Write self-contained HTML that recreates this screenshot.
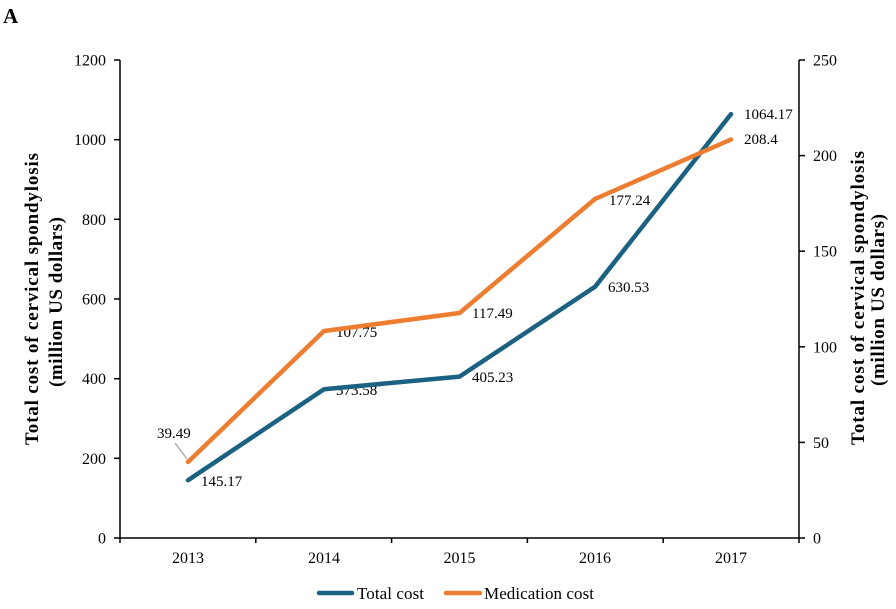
<!DOCTYPE html>
<html>
<head>
<meta charset="utf-8">
<style>
  html,body{margin:0;padding:0;background:#fff;}
  svg{display:block;}
  text{font-family:"Liberation Serif","Times New Roman",serif;fill:#000;}
</style>
</head>
<body>
<svg width="896" height="609" viewBox="0 0 896 609" xmlns="http://www.w3.org/2000/svg">
  <rect width="896" height="609" fill="#fff"/>
  <!-- Panel label -->
  <text x="3" y="23" font-size="21" font-weight="bold">A</text>

  <!-- Axes -->
  <g stroke="#000" stroke-width="1.5" fill="none">
    <line x1="120" y1="60" x2="120" y2="538"/>
    <line x1="799" y1="60" x2="799" y2="538"/>
    <line x1="120" y1="538" x2="799" y2="538"/>
    <!-- left ticks -->
    <line x1="114" y1="538" x2="120" y2="538"/>
    <line x1="114" y1="458.3" x2="120" y2="458.3"/>
    <line x1="114" y1="378.7" x2="120" y2="378.7"/>
    <line x1="114" y1="299" x2="120" y2="299"/>
    <line x1="114" y1="219.3" x2="120" y2="219.3"/>
    <line x1="114" y1="139.7" x2="120" y2="139.7"/>
    <line x1="114" y1="60" x2="120" y2="60"/>
    <!-- right ticks -->
    <line x1="799" y1="538" x2="805" y2="538"/>
    <line x1="799" y1="442.4" x2="805" y2="442.4"/>
    <line x1="799" y1="346.8" x2="805" y2="346.8"/>
    <line x1="799" y1="251.2" x2="805" y2="251.2"/>
    <line x1="799" y1="155.6" x2="805" y2="155.6"/>
    <line x1="799" y1="60" x2="805" y2="60"/>
    <!-- bottom ticks -->
    <line x1="120" y1="538" x2="120" y2="543"/>
    <line x1="255.8" y1="538" x2="255.8" y2="543"/>
    <line x1="391.6" y1="538" x2="391.6" y2="543"/>
    <line x1="527.4" y1="538" x2="527.4" y2="543"/>
    <line x1="663.2" y1="538" x2="663.2" y2="543"/>
    <line x1="799" y1="538" x2="799" y2="543"/>
  </g>

  <!-- Left tick labels -->
  <g font-size="16" text-anchor="end">
    <text x="106" y="543.5">0</text>
    <text x="106" y="463.8">200</text>
    <text x="106" y="384.2">400</text>
    <text x="106" y="304.5">600</text>
    <text x="106" y="224.8">800</text>
    <text x="106" y="145.2">1000</text>
    <text x="106" y="65.5">1200</text>
  </g>
  <!-- Right tick labels -->
  <g font-size="16" text-anchor="start">
    <text x="813" y="543.5">0</text>
    <text x="813" y="447.9">50</text>
    <text x="813" y="352.3">100</text>
    <text x="813" y="256.7">150</text>
    <text x="813" y="161.1">200</text>
    <text x="813" y="65.5">250</text>
  </g>
  <!-- X labels -->
  <g font-size="16" text-anchor="middle">
    <text x="188" y="563">2013</text>
    <text x="324" y="563">2014</text>
    <text x="459.5" y="563">2015</text>
    <text x="595" y="563">2016</text>
    <text x="731" y="563">2017</text>
  </g>

  <!-- Y axis titles -->
  <g font-size="19" font-weight="bold" text-anchor="middle">
    <text transform="translate(38,299) rotate(-90)" textLength="292" lengthAdjust="spacing">Total cost of  cervical spondylosis</text>
    <text transform="translate(62,302) rotate(-90)" textLength="170" lengthAdjust="spacing">(million   US dollars)</text>
    <text transform="translate(864,298) rotate(-90)" textLength="294" lengthAdjust="spacing">Total cost of  cervical spondylosis</text>
    <text transform="translate(884,300) rotate(-90)" textLength="172" lengthAdjust="spacing">(million   US dollars)</text>
  </g>

  <!-- Data labels -->
  <g font-size="15">
    <text x="201" y="486">145.17</text>
    <text x="157" y="438">39.49</text>
    <text x="336" y="395">373.58</text>
    <text x="336" y="337">107.75</text>
    <text x="472" y="382">405.23</text>
    <text x="472" y="318">117.49</text>
    <text x="608" y="292">630.53</text>
    <text x="609" y="205">177.24</text>
    <text x="744" y="119">1064.17</text>
    <text x="744" y="144">208.4</text>
  </g>
  <line x1="175" y1="443" x2="187" y2="459" stroke="#a6a6a6" stroke-width="1.3"/>

  <!-- Series -->
  <polyline points="188,480.2 324,389.2 459.5,376.6 595,286.8 731,114.1" fill="none" stroke="#1b6182" stroke-width="4.5" stroke-linecap="round" stroke-linejoin="round"/>
  <polyline points="188,462 324,331 459.5,313 595,199 731,139.5" fill="none" stroke="#ed7d31" stroke-width="4.5" stroke-linecap="round" stroke-linejoin="round"/>

  <!-- Legend -->
  <line x1="319" y1="593" x2="352" y2="593" stroke="#1b6182" stroke-width="4.5" stroke-linecap="round"/>
  <text x="357" y="599" font-size="17" textLength="67" lengthAdjust="spacing">Total cost</text>
  <line x1="446" y1="593" x2="480" y2="593" stroke="#ed7d31" stroke-width="4.5" stroke-linecap="round"/>
  <text x="484" y="599" font-size="17" textLength="110" lengthAdjust="spacing">Medication cost</text>
</svg>
</body>
</html>
